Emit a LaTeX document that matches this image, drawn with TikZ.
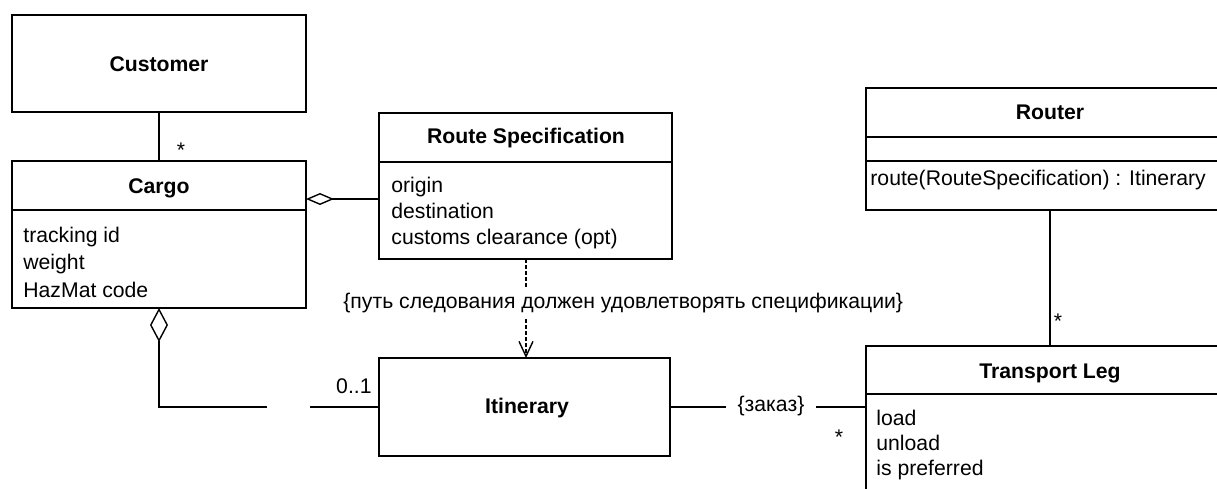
\documentclass[tikz,border=0pt]{standalone}
\usepackage{fontspec}
\setmainfont{Liberation Sans}
\usetikzlibrary{arrows.meta,calc}
\begin{document}
\begin{tikzpicture}[x=0.5pt,y=-0.5pt,
  box/.style={draw,line width=0.7pt,anchor=north west,inner sep=0pt,outer sep=0pt},
  ttl/.style={font=\fontsize{10.6pt}{13pt}\selectfont\bfseries,anchor=base,inner sep=0pt},
  txt/.style={font=\fontsize{10.6pt}{13pt}\selectfont,anchor=base west,inner sep=0pt},
  lab/.style={font=\fontsize{10.6pt}{13pt}\selectfont,inner sep=0pt},
  conn/.style={line width=0.7pt},
  aggh/.style={conn,-{Diamond[open,length=14pt,width=6pt]}},
  aggv/.style={conn,-{Diamond[open,length=17pt,width=9pt]}},
  dep/.style={conn,dash pattern=on 2pt off 1pt,-{Straight Barb[length=7.5pt,width=7pt]}}]
\useasboundingbox (0,0) rectangle (1217,488);
\clip (0,0) rectangle (1217,488);

% Customer
\node[box,minimum width=147pt,minimum height=48.5pt] (cust) at (12,15) {};
\node[ttl] (custT) at (159,71) {Customer};

% Cargo
\node[box,minimum width=147pt,minimum height=73.5pt] (cargo) at (12,161) {};
\draw[conn] ($(cargo.north west)+(0,49)$) -- ($(cargo.north east)+(0,49)$);
\node[ttl] (cargoT) at (159,193) {Cargo};
\node[txt] (cargoA1) at (23,242) {tracking id};
\node[txt] (cargoA2) at (23,269) {weight};
\node[txt] (cargoA3) at (23,297) {HazMat code};

% Route Specification
\node[box,minimum width=146.5pt,minimum height=73pt] (rs) at (379,113) {};
\draw[conn] ($(rs.north west)+(0,49)$) -- ($(rs.north east)+(0,49)$);
\node[ttl] (rsT) at (526,143) {Route Specification};
\node[txt] (rsA1) at (391,192) {origin};
\node[txt] (rsA2) at (391,218) {destination};
\node[txt] (rsA3) at (391,244) {customs clearance (opt)};

% Itinerary
\node[box,minimum width=145.5pt,minimum height=49pt] (itin) at (379,358) {};
\node[ttl] (itinT) at (527,413) {Itinerary};

% Router
\node[box,minimum width=184pt,minimum height=61pt] (router) at (866,88) {};
\draw[conn] ($(router.north west)+(0,49)$) -- ($(router.north east)+(0,49)$);
\draw[conn] ($(router.north west)+(0,73)$) -- ($(router.north east)+(0,73)$);
\node[ttl] (routerT) at (1050,119) {Router};
\node[txt] (routerM) at (870,185) {route(RouteSpecification) : Itinerary};

% Transport Leg
\node[box,minimum width=184pt,minimum height=85pt] (tl) at (866,346) {};
\draw[conn] ($(tl.north west)+(0,48)$) -- ($(tl.north east)+(0,48)$);
\node[ttl] (tlT) at (1050,378) {Transport Leg};
\node[txt] (tlA1) at (876,425) {load};
\node[txt] (tlA2) at (876,450) {unload};
\node[txt] (tlA3) at (876,475) {is preferred};

% Connectors
\draw[conn] (cust.south) -- (cargo.north);
\node[lab] (m1) at (181,150) {*};

\draw[aggh] (rs.west |- 0,199) -- (cargo.east |- 0,199);

\coordinate (bend) at (159,407);
\coordinate (gapL) at (267,407);
\coordinate (gapR) at (310,407);
\draw[aggv] (gapL) -- (bend) -- (cargo.south);
\draw[conn] (gapR) -- (itin.west);
\node[lab,anchor=base east] (m2) at (372,393) {0..1};

\draw[dep] (rs.south -| 526,0) -- (itin.north -| 526,0);
\node[lab,fill=white,inner ysep=2.5pt,inner xsep=0pt,anchor=base west] (constr) at (343,308) {\{путь следования должен удовлетворять спецификации\}};

\draw[conn] (itin.east) -- (tl.west |- itin.east);
\node[lab,fill=white,inner xsep=6pt,inner ysep=1pt] (order) at (771,406) {\{заказ\}};
\node[lab] (m3) at (839,437) {*};

\draw[conn] (router.south) -- (tl.north -| router.south);
\node[lab] (m4) at (1058,321) {*};
\end{tikzpicture}
\end{document}
